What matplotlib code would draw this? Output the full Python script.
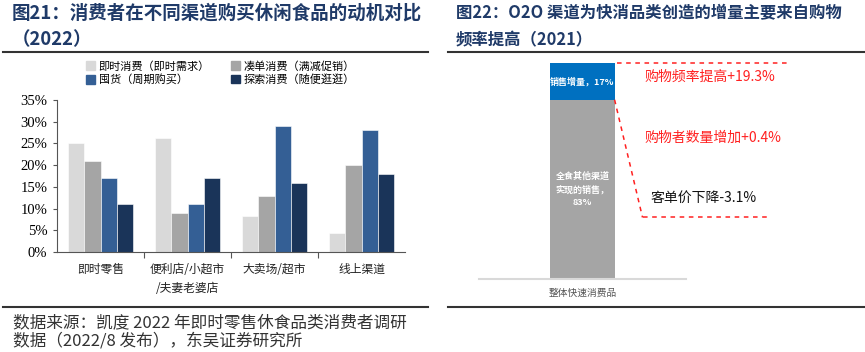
import matplotlib.pyplot as plt
from matplotlib.patches import Patch
import numpy as np

plt.rcParams['font.family'] = ['Noto Sans CJK SC', 'DejaVu Sans']

# left chart data
channels = ['即时零售', '便利店/小超市\n/夫妻老婆店', '大卖场/超市', '线上渠道']
motives = ['即时消费（即时需求）', '凑单消费（满减促销）', '囤货（周期购买）', '探索消费（随便逛逛）']
instant = [25.2, 26.3, 8.3, 4.3]
coupon = [21, 9, 13, 20]
stock = [17, 11, 29, 28]
explore = [11, 17, 16, 18]
yticks = [0, 5, 10, 15, 20, 25, 30, 35]

# right chart data
total_label = '整体快速消费品'
incr_share = 17
other_share = 83
incr_label = '销售增量，17%'
other_label = '全食其他渠道\n实现的销售，\n83%'
drivers = ['购物频率提高+19.3%', '购物者数量增加+0.4%', '客单价下降-3.1%']

colors = ['#D9D9D9', '#A5A5A5', '#345F95', '#1A3459']
title_c = '#1F3A68'
W, H = 865, 352

fig = plt.figure(figsize=(W / 100, H / 100), dpi=100)


def fx(px):
    return px / W


def fy(py):
    return 1 - py / H


# ---- titles and rules ----
fig.text(fx(12), fy(13), '图21：消费者在不同渠道购买休闲食品的动机对比', fontsize=13.3,
         fontweight='bold', color=title_c, va='center')
fig.text(fx(12), fy(40), '（2022）', fontsize=13.3, fontweight='bold', color=title_c, va='center')
fig.text(fx(456), fy(13), '图22：O2O 渠道为快消品类创造的增量主要来自购物', fontsize=11.8,
         fontweight='bold', color=title_c, va='center')
fig.text(fx(456), fy(40), '频率提高（2021）', fontsize=11.8, fontweight='bold', color=title_c, va='center')
for x0, x1 in [(3, 428), (448, 865)]:
    fig.add_artist(plt.Line2D([fx(x0), fx(x1)], [fy(52), fy(52)], color='#333333', lw=1.5))
    fig.add_artist(plt.Line2D([fx(x0), fx(x1)], [fy(307), fy(307)], color='#333333', lw=1.5))

fig.text(fx(13), fy(323), '数据来源：凯度 2022 年即时零售休食品类消费者调研', fontsize=12,
         color='#333333', va='center')
fig.text(fx(13), fy(341), '数据（2022/8 发布），东吴证券研究所', fontsize=12,
         color='#333333', va='center')

# ---- left bar chart ----
ax = fig.add_axes([fx(57), fy(252), fx(405 - 57), (252 - 100) / H])
x = np.arange(len(channels))
bw = 0.1875
series = [instant, coupon, stock, explore]
handles = []
for i, vals in enumerate(series):
    ax.bar(x + (i - 1.5) * bw, vals, width=bw, color=colors[i], edgecolor='white', linewidth=0.4)
    handles.append(Patch(color=colors[i], label=motives[i]))

ax.set_xlim(-0.5, len(channels) - 0.5)
ax.set_ylim(0, 35)
ax.set_yticks(yticks)
ax.set_yticklabels([f'{v}%' for v in yticks], family='Liberation Serif', fontsize=10.5)
ax.set_xticks(np.arange(0.5, len(channels) - 1, 1))
ax.set_xticklabels([])
ax.tick_params(axis='x', length=4, color='#555555')
ax.tick_params(axis='y', length=3, color='#555555', pad=4)
for i, name in enumerate(channels):
    ax.text(i, -2.6, name, ha='center', va='top', fontsize=8.5, color='#222222', linespacing=1.6)
for s in ['top', 'right']:
    ax.spines[s].set_visible(False)
for s in ['left', 'bottom']:
    ax.spines[s].set_color('#555555')

order = [handles[0], handles[2], handles[1], handles[3]]
fig.legend(handles=order, loc='center left', bbox_to_anchor=(fx(82), fy(73)), ncol=2,
           frameon=False, fontsize=8, handlelength=0.8, handleheight=0.8, handletextpad=0.3,
           columnspacing=1.9, labelspacing=0.25, borderaxespad=0)

# ---- right stacked bar ----
ax2 = fig.add_axes([fx(479), fy(279), fx(686 - 479), (279 - 63) / H])
ax2.bar(0, other_share, width=0.31, color='#A5A5A5')
ax2.bar(0, incr_share, bottom=other_share, width=0.31, color='#0070C0')
ax2.set_xlim(-0.5, 0.5)
ax2.set_ylim(0, other_share + incr_share)
ax2.set_yticks([])
ax2.set_xticks([0])
ax2.set_xticklabels([total_label], fontsize=7, color='#555555')
ax2.tick_params(axis='x', length=0, pad=6)
for s in ['top', 'right', 'left']:
    ax2.spines[s].set_visible(False)
ax2.spines['bottom'].set_color('#D9D9D9')
ax2.spines['bottom'].set_linewidth(1.5)
ax2.text(0, other_share + incr_share / 2, incr_label, ha='center', va='center',
         color='white', fontsize=6.5, fontweight='bold')
ax2.text(0, other_share * 0.5, other_label, ha='center', va='center', color='white',
         fontsize=6.5, fontweight='bold', linespacing=1.5)

# dashed red annotation lines
red = '#FF2020'
right_edge = 0.155
ax2.plot([right_edge + 0.01, 0.99], [other_share + incr_share] * 2, ls=(0, (3, 3)),
         color=red, lw=1.1, clip_on=False)
ax2.plot([right_edge, 0.29], [other_share, 28.5], ls=(0, (3, 3)), color=red, lw=1.1, clip_on=False)
ax2.plot([0.29, 0.91], [28.5, 28.5], ls=(0, (3, 3)), color=red, lw=1.1, clip_on=False)

ax2.text(0.3, 93.5, drivers[0], color=red, fontsize=10, va='center')
ax2.text(0.3, 65.5, drivers[1], color=red, fontsize=10, va='center')
ax2.text(0.33, 37.5, drivers[2], color='#111111', fontsize=10, va='center')

fig.savefig('out.png', dpi=100)
